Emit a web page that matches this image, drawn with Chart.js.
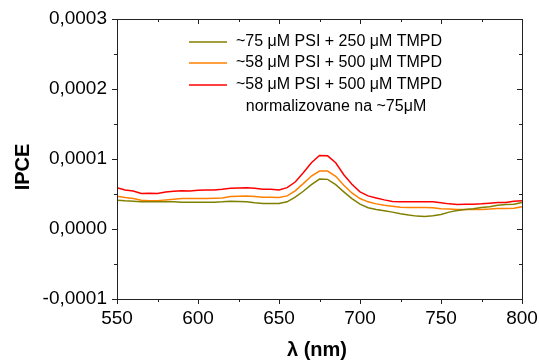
<!DOCTYPE html>
<html>
<head>
<meta charset="utf-8">
<script src="https://cdn.jsdelivr.net/npm/chart.js@4.4.0/dist/chart.umd.min.js"></script>
<style>
  body { margin: 0; background: #fff; }
  #wrap { width: 539px; height: 363px; }
</style>
</head>
<body>
<div id="wrap"><canvas id="ipceChart" width="539" height="363"></canvas></div>
<script>
const wavelengths = [550, 555, 560, 565, 570, 575, 580, 585, 590, 595,
  600, 605, 610, 615, 620, 625, 630, 635, 640, 645,
  650, 655, 660, 665, 670, 675, 680, 685, 690, 695,
  700, 705, 710, 715, 720, 725, 730, 735, 740, 745,
  750, 755, 760, 765, 770, 775, 780, 785, 790, 795, 800];

// ~75 uM PSI + 250 uM TMPD
const psi75 = [4.11e-5, 4.02e-5, 3.97e-5, 3.88e-5, 3.88e-5, 3.88e-5, 3.88e-5, 3.88e-5, 3.83e-5, 3.83e-5,
  3.83e-5, 3.83e-5, 3.83e-5, 3.88e-5, 3.97e-5, 3.92e-5, 3.88e-5, 3.74e-5, 3.64e-5, 3.64e-5,
  3.64e-5, 3.88e-5, 4.54e-5, 5.39e-5, 6.34e-5, 7.14e-5, 7.09e-5, 6.34e-5, 5.30e-5, 4.35e-5,
  3.55e-5, 3.03e-5, 2.79e-5, 2.60e-5, 2.41e-5, 2.17e-5, 1.99e-5, 1.84e-5, 1.80e-5, 1.89e-5,
  2.08e-5, 2.41e-5, 2.65e-5, 2.79e-5, 2.88e-5, 3.07e-5, 3.17e-5, 3.40e-5, 3.50e-5, 3.55e-5, 3.78e-5];

// ~58 uM PSI + 500 uM TMPD
const psi58 = [4.68e-5, 4.49e-5, 4.35e-5, 4.11e-5, 4.02e-5, 4.02e-5, 4.16e-5, 4.26e-5, 4.35e-5, 4.35e-5,
  4.35e-5, 4.35e-5, 4.40e-5, 4.44e-5, 4.63e-5, 4.68e-5, 4.73e-5, 4.63e-5, 4.54e-5, 4.54e-5,
  4.49e-5, 4.73e-5, 5.44e-5, 6.48e-5, 7.57e-5, 8.27e-5, 8.27e-5, 7.52e-5, 6.24e-5, 5.15e-5,
  4.35e-5, 3.88e-5, 3.59e-5, 3.40e-5, 3.26e-5, 3.12e-5, 3.07e-5, 3.07e-5, 3.07e-5, 3.03e-5,
  2.88e-5, 2.84e-5, 2.79e-5, 2.79e-5, 2.79e-5, 2.79e-5, 2.84e-5, 2.93e-5, 2.93e-5, 2.98e-5, 3.17e-5];

// ~58 uM PSI + 500 uM TMPD, normalized to ~75 uM
const psi58norm = [5.91e-5, 5.58e-5, 5.44e-5, 5.06e-5, 5.11e-5, 5.06e-5, 5.30e-5, 5.39e-5, 5.48e-5, 5.44e-5,
  5.53e-5, 5.58e-5, 5.58e-5, 5.67e-5, 5.82e-5, 5.86e-5, 5.91e-5, 5.82e-5, 5.67e-5, 5.67e-5,
  5.58e-5, 5.91e-5, 6.71e-5, 8.04e-5, 9.46e-5, 10.50e-5, 10.45e-5, 9.46e-5, 7.75e-5, 6.38e-5,
  5.30e-5, 4.73e-5, 4.44e-5, 4.16e-5, 3.92e-5, 3.88e-5, 3.88e-5, 3.88e-5, 3.88e-5, 3.88e-5,
  3.74e-5, 3.59e-5, 3.50e-5, 3.55e-5, 3.55e-5, 3.59e-5, 3.69e-5, 3.78e-5, 3.78e-5, 3.97e-5, 4.02e-5];

const seriesLabels = ['~75 μM PSI + 250 μM TMPD', '~58 μM PSI + 500 μM TMPD', '~58 μM PSI + 500 μM TMPD'];
const legendNote = 'normalizovane na ~75μM';
const seriesColors = ['#808000', '#FF8000', '#FF0000'];

const FONT = "'Liberation Sans', Arial, sans-serif";

function toPoints(values) {
  return values.map((v, i) => ({ x: wavelengths[i], y: v }));
}

// frame, minor/major ticks, axis titles and legend box
const framePlugin = {
  id: 'frame',
  afterDraw(chart) {
    const ctx = chart.ctx;
    const { left, right, top, bottom } = chart.chartArea;
    const xs = chart.scales.x;
    const ys = chart.scales.y;
    ctx.save();
    ctx.strokeStyle = '#222';
    ctx.lineWidth = 1;
    ctx.strokeRect(Math.round(left) + 0.5, Math.round(top) + 0.5, Math.round(right - left), Math.round(bottom - top));

    ctx.beginPath();
    for (let v = 550; v <= 800; v += 25) {
      const px = Math.round(xs.getPixelForValue(v)) + 0.5;
      const major = v % 50 === 0;
      ctx.moveTo(px, bottom);
      ctx.lineTo(px, bottom + (major ? 5 : 3));
      ctx.moveTo(px, top);
      ctx.lineTo(px, top + (major ? 5 : 3));
    }
    for (let k = -2; k <= 6; k++) {
      const v = k * 0.00005;
      const py = Math.round(ys.getPixelForValue(v)) + 0.5;
      const major = k % 2 === 0;
      ctx.moveTo(left, py);
      ctx.lineTo(left - (major ? 5 : 3), py);
      ctx.moveTo(right, py);
      ctx.lineTo(right - (major ? 5 : 3), py);
    }
    ctx.stroke();

    // axis titles
    ctx.fillStyle = '#000';
    ctx.font = 'bold 20px ' + FONT;
    ctx.textAlign = 'center';
    ctx.textBaseline = 'middle';
    ctx.fillText('λ (nm)', 317, 350);
    ctx.save();
    ctx.translate(23, 167);
    ctx.rotate(-Math.PI / 2);
    ctx.fillText('IPCE', 0, 0);
    ctx.restore();

    // legend
    ctx.font = '16px ' + FONT;
    ctx.textAlign = 'left';
    const rowY = [42, 63, 85];
    seriesLabels.forEach((label, i) => {
      ctx.strokeStyle = seriesColors[i];
      ctx.lineWidth = 1.5;
      ctx.beginPath();
      ctx.moveTo(189, rowY[i]);
      ctx.lineTo(227, rowY[i]);
      ctx.stroke();
      ctx.fillText(label, 236, rowY[i]);
    });
    ctx.textAlign = 'center';
    ctx.fillText(legendNote, 336, 107);
    ctx.restore();
  }
};

const ctx = document.getElementById('ipceChart').getContext('2d');
const chart = new Chart(ctx, {
  type: 'line',
  data: {
    datasets: [psi75, psi58, psi58norm].map((vals, i) => ({
      label: seriesLabels[i],
      data: toPoints(vals),
      borderColor: seriesColors[i],
      borderWidth: 1.5,
      pointRadius: 0,
      tension: 0,
      fill: false,
    }))
  },
  options: {
    responsive: false,
    animation: false,
    layout: { padding: { left: 0, right: 17, top: 19, bottom: 0 } },
    scales: {
      x: {
        type: 'linear',
        min: 550,
        max: 800,
        grid: { display: false },
        border: { display: false },
        ticks: {
          stepSize: 50,
          padding: 0,
          color: '#000',
          font: { family: FONT, size: 19 },
        },
        afterFit(scale) { scale.height = 64; }
      },
      y: {
        min: -0.0001,
        max: 0.0003,
        grid: { display: false },
        border: { display: false },
        ticks: {
          stepSize: 0.0001,
          padding: 2,
          color: '#000',
          font: { family: FONT, size: 19 },
          callback: (value) => (Math.abs(value) < 1e-9 ? 0 : value).toFixed(4).replace('.', ','),
        },
        afterFit(scale) { scale.width = 117; }
      }
    },
    plugins: {
      legend: { display: false },
      tooltip: { enabled: false },
    }
  },
  plugins: [framePlugin]
});
</script>
</body>
</html>
